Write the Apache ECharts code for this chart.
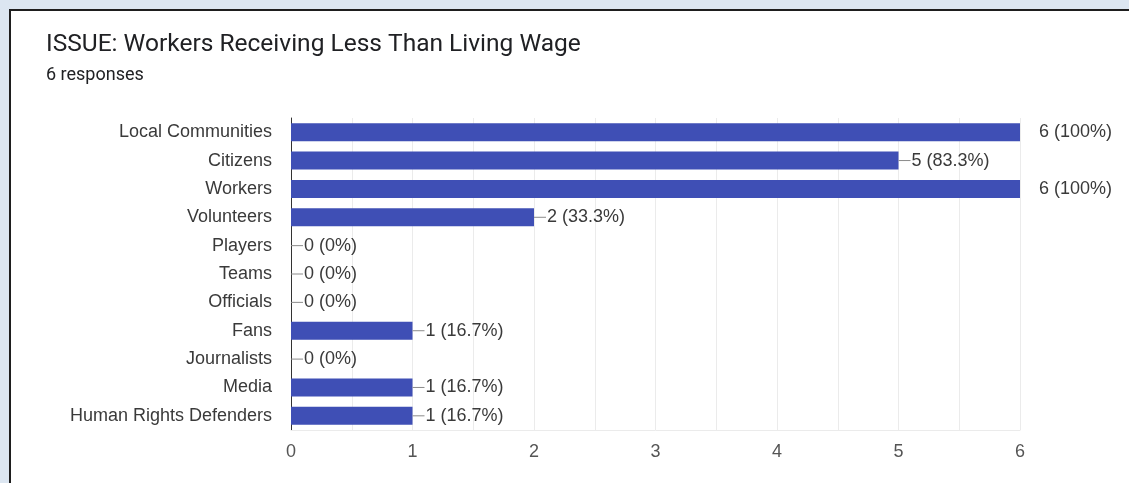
<!DOCTYPE html>
<html>
<head>
<meta charset="utf-8">
<script src="https://cdn.jsdelivr.net/npm/echarts@6/dist/echarts.min.js"></script>
<style>
  html, body { margin: 0; padding: 0; background: #dce6f1; }
  #chart { width: 1129px; height: 483px; }
</style>
</head>
<body>
<div id="chart"></div>
<script>
// Stakeholder groups and how many of the 6 respondents picked each one
const categories = [
  'Local Communities', 'Citizens', 'Workers', 'Volunteers', 'Players', 'Teams',
  'Officials', 'Fans', 'Journalists', 'Media', 'Human Rights Defenders'
];
const counts = [6, 5, 6, 2, 0, 0, 0, 1, 0, 1, 1];
const percentLabels = ['100%', '83.3%', '100%', '33.3%', '0%', '0%', '0%', '16.7%', '0%', '16.7%', '16.7%'];
const xTicks = [0, 1, 2, 3, 4, 5, 6];
const totalResponses = 6;

const chart = echarts.init(document.getElementById('chart'), null, { renderer: 'canvas' });

const font = '"Liberation Sans", Arial, sans-serif';
const headFont = 'Roboto, "Liberation Sans", sans-serif';

chart.setOption({
  backgroundColor: '#dce6f1',
  animation: false,
  graphic: [
    {
      type: 'rect',
      shape: { x: 10, y: 10, width: 1140, height: 500 },
      style: { fill: '#ffffff', stroke: '#1e1e1e', lineWidth: 2 },
      z: -10
    },
    {
      type: 'text',
      left: 46, top: 32,
      style: {
        text: 'ISSUE: Workers Receiving Less Than Living Wage',
        fontFamily: headFont,
        fontSize: 24.5, fill: '#202124'
      }
    },
    {
      type: 'text',
      left: 46, top: 66,
      style: {
        text: totalResponses + ' responses',
        fontFamily: headFont,
        fontSize: 18, fill: '#202124'
      }
    }
  ],
  grid: { left: 291, right: 109, top: 118, bottom: 53 },
  xAxis: {
    type: 'value',
    min: 0, max: 6, interval: 0.5,
    axisLine: { show: true, lineStyle: { color: '#ebebeb', width: 1 } },
    axisTick: { show: false },
    splitLine: { lineStyle: { color: '#ebebeb', width: 1 } },
    axisLabel: {
      margin: 13,
      fontFamily: font, fontSize: 18, color: '#555',
      formatter: v => (xTicks.indexOf(v) >= 0 ? String(v) : '')
    }
  },
  yAxis: {
    type: 'category',
    data: categories,
    inverse: true,
    axisTick: { show: false },
    axisLine: { show: true, lineStyle: { color: '#333', width: 1 } },
    axisLabel: { margin: 19, fontFamily: font, fontSize: 18, color: '#3a3a3a' }
  },
  series: [{
    type: 'bar',
    data: counts,
    barWidth: 18,
    itemStyle: { color: '#3f4fb5' },
    label: {
      show: true,
      position: 'right',
      distance: 0,
      formatter: p => {
        const txt = p.value + ' (' + percentLabels[p.dataIndex] + ')';
        return p.value === 6 ? '{gap|}{t|' + txt + '}' : '{ln|}{t|' + txt + '}';
      },
      rich: {
        ln: { width: 12, height: 1, backgroundColor: '#8a8a8a' },
        gap: { width: 18, height: 1 },
        t: { fontFamily: font, fontSize: 18, color: '#3a3a3a', padding: [0, 0, 0, 1] }
      }
    }
  }]
});
</script>
</body>
</html>
